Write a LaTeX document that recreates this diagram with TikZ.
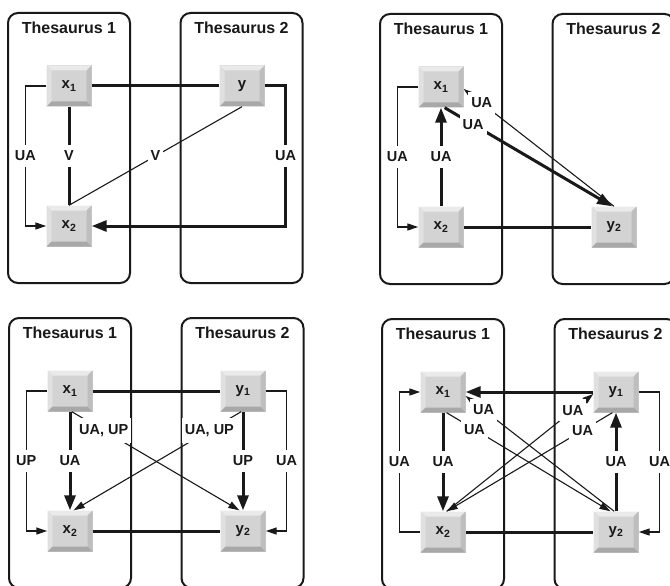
\documentclass[tikz,border=0pt]{standalone}
\usepackage{fontspec}
\setmainfont{Liberation Sans}
\usepackage{tikz}
\usetikzlibrary{arrows.meta}
\definecolor{ink}{RGB}{25,25,25}
\definecolor{keyface}{RGB}{211,211,211}
\definecolor{keytop}{RGB}{234,234,234}
\definecolor{keyleft}{RGB}{224,224,224}
\definecolor{keyright}{RGB}{190,190,190}
\definecolor{keybottom}{RGB}{168,168,168}

\begin{document}
\begin{tikzpicture}[
  x=1pt,y=-1pt,
  thesaurus/.style={rectangle,rounded corners=10pt,draw=ink,line width=2pt,minimum width=122pt,minimum height=270pt},
  heading/.style={font=\bfseries\fontsize{16}{16}\selectfont,text=ink},
  keybox/.style={rectangle,minimum width=45pt,minimum height=41pt,inner sep=0pt,fill=keyface,
    font=\bfseries\fontsize{15}{15}\selectfont,text=ink,
    path picture={
      \fill[keytop] (path picture bounding box.north west) -- (path picture bounding box.north east)
        -- ([xshift=-5pt,yshift=-5pt]path picture bounding box.north east)
        -- ([xshift=5pt,yshift=-5pt]path picture bounding box.north west) -- cycle;
      \fill[keyleft] (path picture bounding box.north west) -- (path picture bounding box.south west)
        -- ([xshift=5pt,yshift=5pt]path picture bounding box.south west)
        -- ([xshift=5pt,yshift=-5pt]path picture bounding box.north west) -- cycle;
      \fill[keyright] (path picture bounding box.north east) -- (path picture bounding box.south east)
        -- ([xshift=-5pt,yshift=5pt]path picture bounding box.south east)
        -- ([xshift=-5pt,yshift=-5pt]path picture bounding box.north east) -- cycle;
      \fill[keybottom] (path picture bounding box.south west) -- (path picture bounding box.south east)
        -- ([xshift=-5pt,yshift=5pt]path picture bounding box.south east)
        -- ([xshift=5pt,yshift=5pt]path picture bounding box.south west) -- cycle;
    }},
  rel/.style={fill=white,inner xsep=3pt,inner ysep=6pt,font=\bfseries\fontsize{14.5}{14.5}\selectfont,text=ink},
  strong/.style={draw=ink,line width=3pt},
  weak/.style={draw=ink,line width=1.1pt},
  strongarrow/.style={strong,-{Triangle[length=15pt,width=11pt]}},
  weakarrow/.style={weak,-{Triangle[length=11pt,width=7pt]}}
]
\useasboundingbox (0,0) rectangle (670,586);
\clip (0,0) rectangle (670,586);

% x1, x2 against y
\begin{scope}[name prefix=a-]
  \node[thesaurus] (th1) at (69,148) {};
  \node[thesaurus] (th2) at (241.5,148) {};
  \node[heading] (h1) at (69,28) {Thesaurus 1};
  \node[heading] (h2) at (241.5,28) {Thesaurus 2};
  \node[keybox] (x1) at (69,86) {x\textsubscript{1}};
  \node[keybox] (y) at (242,86) {y};
  \node[keybox] (x2) at (69,226) {x\textsubscript{2}};
  \draw[strong] (x1) -- (y);
  \draw[strong] (x1) -- node[rel] {V} (x2);
  \draw[weak] (y.south) -- node[rel] {V} (x2.north);
  \draw[weakarrow] (x1.west) -- ++(-21,0) |- node[rel,pos=.25] {UA} (x2.west);
  \draw[strongarrow] (y.east) -- ++(21,0) |- node[rel,pos=.25] {UA} (x2.east);
\end{scope}

% x1, x2 against y2
\begin{scope}[shift={(372,1)},name prefix=b-]
  \node[thesaurus] (th1) at (69,148) {};
  \node[thesaurus] (th2) at (241.5,148) {};
  \node[heading] (h1) at (69,28) {Thesaurus 1};
  \node[heading] (h2) at (241.5,28) {Thesaurus 2};
  \node[keybox] (x1) at (69,86) {x\textsubscript{1}};
  \node[keybox] (x2) at (69,226) {x\textsubscript{2}};
  \node[keybox] (y2) at (242,226) {y\textsubscript{2}};
  \draw[weakarrow] (x1.west) -- ++(-21,0) |- node[rel,pos=.25] {UA} (x2.west);
  \draw[strong] (x2) -- (y2);
  \draw[strongarrow] (x1.-80) -- node[rel,pos=.17] {UA} (y2.95);
  \draw[weakarrow] (y2.north) -- node[rel,pos=.88] {UA} (x1.-5);
  \draw[strongarrow] (x2) -- node[rel] {UA} (x1);
\end{scope}

% x1, x2 against y1, y2
\begin{scope}[shift={(1,305)},name prefix=c-]
  \node[thesaurus] (th1) at (69,148) {};
  \node[thesaurus] (th2) at (241.5,148) {};
  \node[heading] (h1) at (69,28) {Thesaurus 1};
  \node[heading] (h2) at (241.5,28) {Thesaurus 2};
  \node[keybox] (x1) at (69,86) {x\textsubscript{1}};
  \node[keybox] (y1) at (242,86) {y\textsubscript{1}};
  \node[keybox] (x2) at (69,226) {x\textsubscript{2}};
  \node[keybox] (y2) at (242,226) {y\textsubscript{2}};
  \draw[strong] (x1) -- (y1);
  \draw[strong] (x2) -- (y2);
  \draw[weakarrow] (x1.west) -- ++(-21,0) |- node[rel,pos=.25] {UP} (x2.west);
  \draw[weakarrow] (y1.east) -- ++(21,0) |- node[rel,pos=.25] {UA} (y2.east);
  \draw[weakarrow] (x1.-85) -- node[rel,pos=.19] {UA, UP} (y2.100);
  \draw[weakarrow] (y1.-95) -- node[rel,pos=.19] {UA, UP} (x2.80);
  \draw[strongarrow] (x1) -- node[rel] {UA} (x2);
  \draw[strongarrow] (y1) -- node[rel] {UP} (y2);
\end{scope}

% all UA
\begin{scope}[shift={(374,306)},name prefix=d-]
  \node[thesaurus] (th1) at (69,148) {};
  \node[thesaurus] (th2) at (241.5,148) {};
  \node[heading] (h1) at (69,28) {Thesaurus 1};
  \node[heading] (h2) at (241.5,28) {Thesaurus 2};
  \node[keybox] (x1) at (69,86) {x\textsubscript{1}};
  \node[keybox] (y1) at (242,86) {y\textsubscript{1}};
  \node[keybox] (x2) at (69,226) {x\textsubscript{2}};
  \node[keybox] (y2) at (242,226) {y\textsubscript{2}};
  \draw[strongarrow] (y1) -- (x1);
  \draw[strong] (x2) -- (y2);
  \draw[weakarrow] (x2.west) -- ++(-21,0) |- node[rel,pos=.25] {UA} (x1.west);
  \draw[weakarrow] (y1.east) -- ++(21,0) |- node[rel,pos=.25] {UA} (y2.east);
  \draw[weakarrow] (y2.95) -- node[rel,pos=.88] {UA} (x1.-10);
  \draw[weakarrow] (x1.-80) -- node[rel,pos=.17] {UA} (y2.105);
  \draw[weakarrow] (x2.80) -- node[rel,pos=.86] {UA} (y1.185);
  \draw[weakarrow] (y1.-100) -- node[rel,pos=.18] {UA} (x2.80);
  \draw[strongarrow] (x1) -- node[rel] {UA} (x2);
  \draw[strongarrow] (y2) -- node[rel] {UA} (y1);
\end{scope}
\end{tikzpicture}
\end{document}
